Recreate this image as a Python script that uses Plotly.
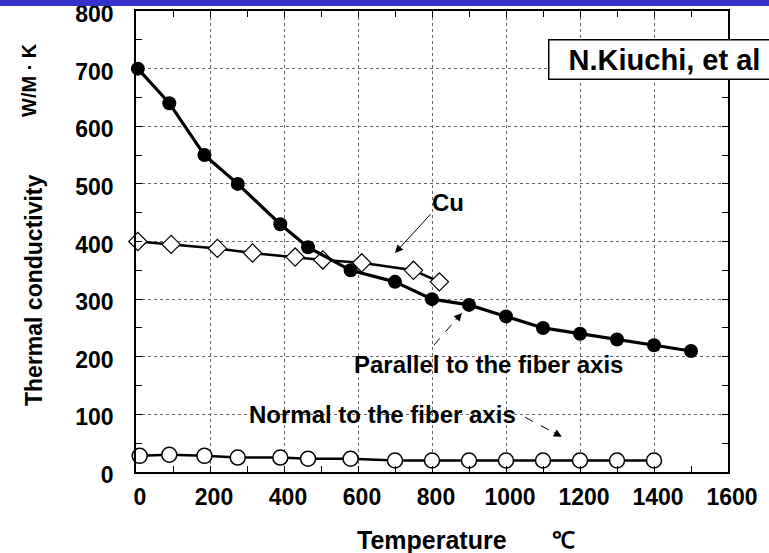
import plotly.graph_objects as go

# Thermal conductivity (W/M·K) versus temperature (°C)
temp_parallel = [5, 90, 185, 275, 390, 465, 580, 700, 800, 900, 1000, 1100, 1200, 1300, 1400, 1500]
k_parallel = [700, 640, 550, 500, 430, 390, 350, 330, 300, 290, 270, 250, 240, 230, 220, 210]

temp_cu = [5, 95, 220, 315, 430, 505, 610, 750, 820]
k_cu = [400, 395, 388, 380, 373, 368, 363, 350, 330]

temp_normal = [10, 90, 185, 275, 390, 465, 580, 700, 800, 900, 1000, 1100, 1200, 1300, 1400]
k_normal = [28, 30, 28, 25, 25, 23, 23, 20, 20, 20, 20, 20, 20, 20, 20]

x_ticks = [0, 200, 400, 600, 800, 1000, 1200, 1400, 1600]
y_ticks = [0, 100, 200, 300, 400, 500, 600, 700, 800]

FONT = "Arial, Liberation Sans, sans-serif"

# plot-area geometry in pixels (used to place paper-referenced items)
L, R, T, B = 136, 728, 11, 472
W_PA, H_PA = R - L, B - T


def px(xp):
    return (xp - L) / W_PA


def py(yp):
    return (B - yp) / H_PA


fig = go.Figure()

fig.add_trace(go.Scatter(
    x=temp_normal, y=k_normal, mode="lines+markers",
    line=dict(color="black", width=2.5),
    marker=dict(symbol="circle", size=15, color="white", line=dict(color="black", width=1.5)),
    cliponaxis=False, showlegend=False,
))
fig.add_trace(go.Scatter(
    x=temp_cu, y=k_cu, mode="lines+markers",
    line=dict(color="black", width=2.5),
    marker=dict(symbol="diamond", size=14, color="white", line=dict(color="black", width=1.2)),
    cliponaxis=False, showlegend=False,
))
fig.add_trace(go.Scatter(
    x=temp_parallel, y=k_parallel, mode="lines+markers",
    line=dict(color="black", width=3.2),
    marker=dict(symbol="circle", size=14, color="black"),
    cliponaxis=False, showlegend=False,
))

axis_common = dict(
    showline=True, linecolor="black", linewidth=1.5, mirror="ticks",
    ticks="inside", ticklen=6, tickcolor="black", tickwidth=1.2,
    showgrid=True, gridcolor="#666666", gridwidth=1, griddash="dot",
    zeroline=False, automargin=False, ticklabeloverflow="allow",
    tickfont=dict(family=FONT, size=23, color="black", weight="bold"),
)

fig.update_xaxes(
    range=[0, 1600], tickvals=x_ticks, ticktext=[str(v) for v in x_ticks],
    minor=dict(dtick=100, ticks="inside", ticklen=6, tickcolor="black", showgrid=False),
    ticklabelstandoff=4, ticklabelshift=4,
    **axis_common,
)
fig.update_yaxes(
    range=[0, 800], tickvals=y_ticks, ticktext=[str(v) for v in y_ticks],
    minor=dict(dtick=50, ticks="inside", ticklen=6, tickcolor="black", showgrid=False),
    ticklabelstandoff=16, ticklabelshift=3,
    **axis_common,
)

# Blue header band
fig.add_shape(type="rect", xref="paper", yref="paper",
              x0=px(-5), x1=px(775), y0=py(6), y1=py(-3),
              fillcolor="#3333CC", line=dict(width=0), layer="above")

ann_font = dict(family=FONT, size=24, color="black", weight="bold")
arrow_style = dict(text="", showarrow=True, arrowhead=2, arrowsize=1.6,
                   arrowwidth=1, arrowcolor="black", axref="x", ayref="y")

# Curve labels
fig.add_annotation(x=843, y=467, text="Cu", showarrow=False, font=ann_font)
fig.add_annotation(x=700, y=380, ax=800, ay=450, **arrow_style)

fig.add_annotation(x=585, y=186, text="Parallel to the fiber axis", xanchor="left",
                   showarrow=False, font=ann_font)
fig.add_shape(type="line", x0=805, y0=220, x1=860, y1=261,
              line=dict(color="black", width=1, dash="dash"))
fig.add_annotation(x=881, y=276, ax=860, ay=261, **arrow_style)

fig.add_annotation(x=300, y=100, text="Normal to the fiber axis", xanchor="left",
                   showarrow=False, font=ann_font)
fig.add_shape(type="line", x0=1051, y0=95, x1=1125, y1=70,
              line=dict(color="black", width=1, dash="dash"))
fig.add_annotation(x=1151, y=61, ax=1125, ay=70, **arrow_style)

# Axis titles
fig.add_annotation(xref="paper", yref="paper", x=px(34), y=py(290),
                   xanchor="center", yanchor="middle",
                   text="Thermal conductivity", textangle=-90, showarrow=False,
                   font=dict(family=FONT, size=23, color="black", weight="bold"))
fig.add_annotation(xref="paper", yref="paper", x=px(29), y=py(80),
                   xanchor="center", yanchor="middle",
                   text="W/M · K", textangle=-90, showarrow=False,
                   font=dict(family=FONT, size=20, color="black", weight="bold"))
fig.add_annotation(xref="paper", yref="paper", x=px(432), y=py(540),
                   xanchor="center", yanchor="middle",
                   text="Temperature", showarrow=False,
                   font=dict(family=FONT, size=25, color="black", weight="bold"))
fig.add_annotation(xref="paper", yref="paper", x=px(563), y=py(540),
                   xanchor="center", yanchor="middle",
                   text="℃", showarrow=False,
                   font=dict(family=FONT, size=23, color="black", weight="bold"))

# Source box (its frame runs off the right edge)
fig.add_annotation(xref="paper", yref="paper", x=px(548), y=py(59),
                   xanchor="left", yanchor="middle", align="left",
                   width=300, height=32,
                   text="&nbsp;&nbsp;N.Kiuchi, et al", showarrow=False,
                   font=dict(family=FONT, size=29, color="black", weight="bold"),
                   bgcolor="white", bordercolor="black", borderwidth=1.5, borderpad=3)

fig.update_layout(
    width=769, height=553,
    margin=dict(l=L, r=769 - R, t=T, b=553 - B, autoexpand=False),
    plot_bgcolor="white", paper_bgcolor="white",
)

fig.write_html("out.html")
